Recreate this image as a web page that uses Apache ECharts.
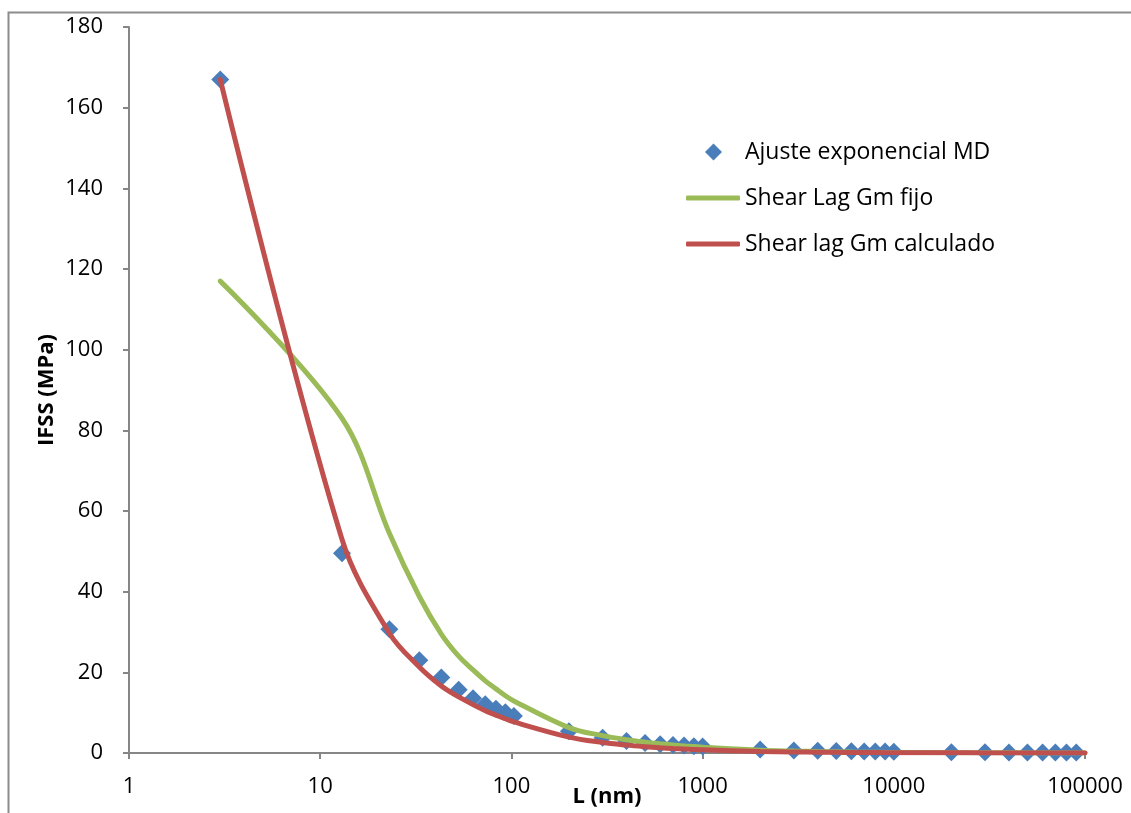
<!DOCTYPE html>
<html>
<head>
<meta charset="utf-8">
<script src="https://cdn.jsdelivr.net/npm/echarts@6/dist/echarts.min.js"></script>
<style>
html,body{margin:0;padding:0;background:#fff;}
#chart{width:1131px;height:813px;}
</style>
</head>
<body>
<div id="chart"></div>
<script>
// ---- data ----
const markerL = [3,13,23,33,43,53,63,73,83,93,103,200,300,400,500,600,700,800,900,1000,2000,3000,4000,5000,6000,7000,8000,9000,10000,20000,30000,40000,50000,60000,70000,80000,90000];
const markerIFSS = [167,49.5,30.7,23.0,18.7,15.7,13.6,12.1,11.0,10.1,9.2,5.4,3.8,3.0,2.5,2.2,2.0,1.85,1.7,1.6,0.85,0.65,0.55,0.5,0.45,0.4,0.38,0.35,0.33,0.2,0.17,0.15,0.13,0.12,0.11,0.1,0.1];

const lineL = [3,13,23,33,43,53,63,73,83,93,103,200,300,400,500,600,700,800,900,1000,2000,3000,4000,5000,6000,7000,8000,9000,10000,20000,30000,40000,50000,60000,70000,80000,90000,100000];
const fijoIFSS = [117,83,54.5,38.8,29.5,24.0,20.6,17.9,15.9,14.2,12.9,6.3,4.3,3.3,2.7,2.3,2.0,1.75,1.6,1.45,0.7,0.47,0.35,0.28,0.23,0.2,0.17,0.15,0.14,0.07,0.05,0.035,0.03,0.025,0.02,0.018,0.016,0.014];
const calcIFSS = [167,53,29.7,21.3,16.6,13.9,12.0,10.5,9.4,8.5,7.7,3.95,2.6,1.95,1.56,1.3,1.11,0.98,0.87,0.78,0.39,0.26,0.2,0.16,0.13,0.11,0.1,0.087,0.078,0.039,0.026,0.02,0.016,0.013,0.011,0.01,0.009,0.008];

const xTicks = [1,10,100,1000,10000,100000];
const yMin = 0, yMax = 180, yStep = 20;

const names = ['Ajuste exponencial MD','Shear Lag Gm fijo','Shear lag Gm calculado'];
const colors = ['#4A7EBB','#9BBB59','#C0504D'];

const zip = (a,b) => a.map((v,i)=>[v,b[i]]);

const FONT = 'Open Sans';
const chart = echarts.init(document.getElementById('chart'), null, {renderer:'canvas'});
const axisGray = '#868686';

chart.setOption({
  animation:false,
  backgroundColor:'#ffffff',
  textStyle:{fontFamily:FONT},
  grid:{left:129,right:46,top:27,bottom:60,containLabel:false,outerBoundsMode:'none'},
  xAxis:{
    type:'log', logBase:10, min:xTicks[0], max:xTicks[xTicks.length-1],
    name:'L (nm)', nameLocation:'middle', nameGap:33, nameMoveOverlap:false,
    nameTextStyle:{fontFamily:FONT,fontWeight:'bold',fontSize:22,color:'#000',lineHeight:22},
    axisLine:{show:true,lineStyle:{color:axisGray,width:2}},
    axisTick:{show:true,inside:false,length:6,lineStyle:{color:axisGray,width:2}},
    minorTick:{show:false},
    splitLine:{show:false},
    axisLabel:{fontFamily:FONT,fontSize:22,color:'#000',margin:23,lineHeight:22,
      formatter:v=>String(Math.round(v))}
  },
  yAxis:{
    type:'value', min:yMin, max:yMax, interval:yStep,
    name:'IFSS (MPa)', nameLocation:'middle', nameGap:71, nameRotate:90, nameMoveOverlap:false,
    nameTextStyle:{fontFamily:FONT,fontWeight:'bold',fontSize:22,color:'#000',lineHeight:22},
    axisLine:{show:true,lineStyle:{color:axisGray,width:2}},
    axisTick:{show:true,inside:false,length:6,lineStyle:{color:axisGray,width:2}},
    splitLine:{show:false},
    axisLabel:{fontFamily:FONT,fontSize:22,color:'#000',margin:26}
  },
  legend:[
    {data:[{name:names[0],icon:'diamond'}],orient:'vertical',left:705,top:140,padding:0,
     itemWidth:17,itemHeight:17,
     textStyle:{fontFamily:FONT,fontSize:23,color:'#000',lineHeight:24,padding:[0,0,0,18]}},
    {data:[{name:names[1],icon:'roundRect'}],orient:'vertical',left:686,top:186,padding:0,
     itemWidth:54,itemHeight:5,
     textStyle:{fontFamily:FONT,fontSize:23,color:'#000',lineHeight:24}},
    {data:[{name:names[2],icon:'roundRect'}],orient:'vertical',left:686,top:232,padding:0,
     itemWidth:54,itemHeight:5,
     textStyle:{fontFamily:FONT,fontSize:23,color:'#000',lineHeight:24}}
  ],
  graphic:[{type:'rect',left:6,top:10,shape:{width:1300,height:1000},
    style:{fill:'none',stroke:'#8c8c8c',lineWidth:2},silent:true,z:100}],
  series:[
    {name:names[0],type:'scatter',data:zip(markerL,markerIFSS),symbol:'diamond',symbolSize:18,
     itemStyle:{color:colors[0],opacity:1},z:2},
    {name:names[1],type:'line',data:zip(lineL,fijoIFSS),smooth:0.35,showSymbol:false,symbol:'none',
     lineStyle:{color:colors[1],width:5,cap:'round'},itemStyle:{color:colors[1]},z:3},
    {name:names[2],type:'line',data:zip(lineL,calcIFSS),smooth:0.35,showSymbol:false,symbol:'none',
     lineStyle:{color:colors[2],width:5,cap:'round'},itemStyle:{color:colors[2]},z:4}
  ]
});
</script>
</body>
</html>
